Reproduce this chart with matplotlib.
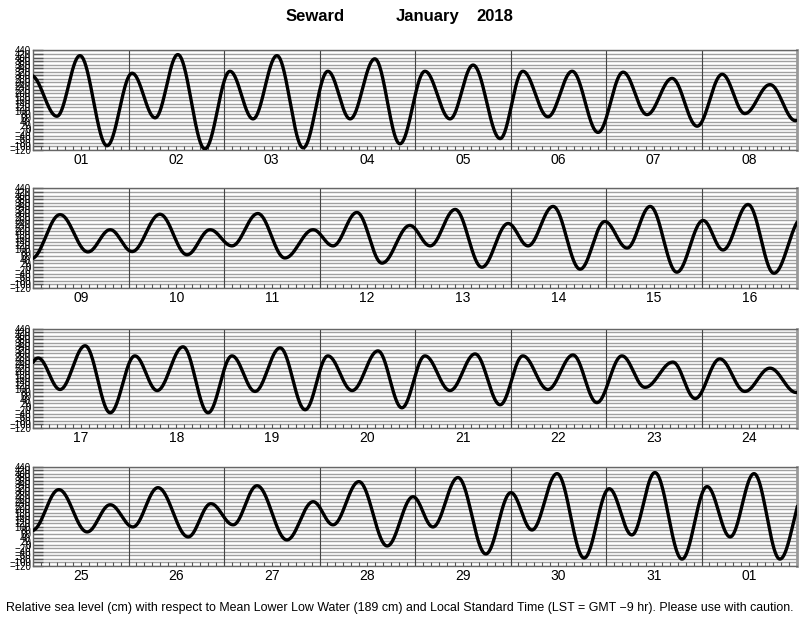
import numpy as np
import matplotlib
matplotlib.use('Agg')
import matplotlib.pyplot as plt

plt.rcParams['font.family'] = ['Liberation Sans', 'DejaVu Sans']

# high / low waters, hours after Jan 1 00:00 LST, and height in cm above MLLW
hilo_hours = [-0.5, 6.0, 11.8, 18.6, 24.9, 30.7, 36.4, 43.2, 49.5, 55.3, 61.3, 67.9,
              74.1, 79.7, 85.9, 92.2, 98.5, 104.8, 110.6, 117.4, 123.1, 129.4, 135.5,
              142.0, 148.3, 154.3, 160.6, 166.9, 173.2, 178.9, 185.2,
              191.6, 198.8, 205.8, 211.4, 216.9, 223.9, 230.7, 236.5, 242.0, 248.5,
              255.3, 262.4, 267.4, 273.4, 279.7, 286.7, 291.8, 298.1, 304.8, 311.4,
              316.4, 322.7, 329.5, 335.7, 341.3, 347.1, 353.8, 360.4, 365.4, 371.7, 378.2,
              385.3, 390.8, 397.1, 403.4, 409.6, 415.2, 421.7, 428.0, 434.0, 439.8,
              446.1, 452.4, 458.1, 464.2, 470.7, 476.7, 482.5, 488.8, 495.1, 501.4,
              507.1, 513.4, 519.7, 525.7, 532.0, 537.8, 544.8, 550.4, 556.6, 562.9, 569.2,
              575.8, 582.5, 589.6, 595.4, 601.1, 607.4, 615.0, 620.7, 626.3, 632.3,
              639.8, 646.4, 651.4, 657.9, 665.0, 671.5, 676.5, 682.8, 689.8, 696.1,
              701.4, 707.7, 714.5, 720.8, 726.5, 732.3, 739.1, 745.4, 751.2, 757.2,
              763.7, 770.5]
hilo_cm = [300, 70, 411, -96, 312, 61, 417, -114, 323, 55, 411, -108,
           323, 55, 393, -85, 323, 55, 358, -56, 323, 67, 323,
           -21, 318, 79, 283, 14, 306, 85, 248,
           45, 293, 83, 208, 85, 295, 67, 208, 117, 299,
           49, 208, 117, 305, 20, 232, 117, 322, -3, 243,
           117, 339, -14, 254, 105, 339, -31, 260, 94, 350, -37,
           274, 97, 343, -34, 286, 91, 337, -34, 286, 86,
           331, -17, 286, 91, 314, -6, 286, 91, 297, 11,
           286, 97, 291, 23, 286, 109, 251, 46, 269, 86, 217,
           80, 310, 72, 225, 100, 321, 44, 231, 112, 332,
           27, 242, 112, 355, -7, 270, 100, 378, -52, 293,
           83, 400, -75, 315, 55, 406, -81, 327, 44, 400,
           -81, 330]

day_labels = ['01', '02', '03', '04', '05', '06', '07', '08',
              '09', '10', '11', '12', '13', '14', '15', '16',
              '17', '18', '19', '20', '21', '22', '23', '24',
              '25', '26', '27', '28', '29', '30', '31', '01']

yticks = list(range(-120, 441, 20))

# smooth curve between successive extrema (cosine shape)
t = np.arange(-0.5, 770.5, 0.1)
h = np.zeros_like(t)
for i in range(len(hilo_hours) - 1):
    t0, t1 = hilo_hours[i], hilo_hours[i + 1]
    m = (t >= t0) & (t <= t1)
    f = (t[m] - t0) / (t1 - t0)
    h[m] = hilo_cm[i] + (hilo_cm[i + 1] - hilo_cm[i]) * (1 - np.cos(np.pi * f)) / 2

fig = plt.figure(figsize=(8, 6.18), dpi=100)

bottoms = [0.7573, 0.5340, 0.3074, 0.0841]
for p in range(4):
    ax = fig.add_axes([0.04125, bottoms[p], 0.955, 0.161])
    start = p * 192
    ax.set_xlim(start, start + 192)
    ax.set_ylim(-120, 440)

    for y in yticks:
        ax.axhline(y, color='#a0a0a0', lw=1.0, zorder=1)
    for d in range(1, 8):
        ax.axvline(start + d * 24, color='#444444', lw=0.8, zorder=2)

    ax.plot(t, h, color='black', lw=2.4, zorder=3, solid_capstyle='round')

    ax.set_yticks(yticks)
    ax.set_yticklabels([str(y).replace('-', '\u2212') for y in yticks], fontsize=7)
    ax.tick_params(axis='y', direction='in', length=7, width=1.0, color='#555555', pad=1.5)
    ax.set_xticks(np.arange(start, start + 193, 2))
    ax.set_xticklabels([])
    ax.tick_params(axis='x', direction='in', length=3, width=0.8, color='#555555')

    for k in range(8):
        ax.text(start + k * 24 + 12, -0.03, day_labels[p * 8 + k], transform=ax.get_xaxis_transform(),
                ha='center', va='top', fontsize=10)

    for s in ax.spines.values():
        s.set_color('#666666')
        s.set_linewidth(1.0)
    ax.spines['right'].set_color('#999999')
    ax.spines['right'].set_linewidth(2.0)

fig.text(0.394, 0.974, 'Seward', ha='center', va='center', fontsize=12, fontweight='bold')
fig.text(0.494, 0.974, 'January', ha='left', va='center', fontsize=12, fontweight='bold')
fig.text(0.596, 0.974, '2018', ha='left', va='center', fontsize=12, fontweight='bold')

fig.text(0.5, 0.016, 'Relative sea level (cm) with respect to Mean Lower Low Water (189 cm) and '
         'Local Standard Time (LST = GMT \u22129 hr). Please use with caution.',
         ha='center', va='center', fontsize=8.9)

fig.savefig('out.png', dpi=100)
